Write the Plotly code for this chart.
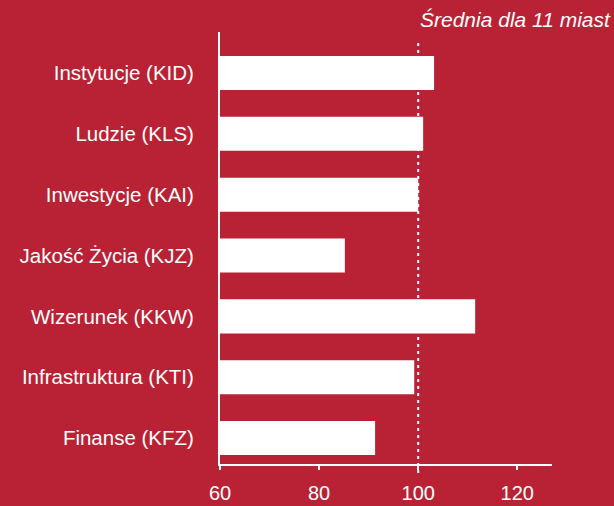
import plotly.graph_objects as go

categories = ["Finanse (KFZ)", "Infrastruktura (KTI)", "Wizerunek (KKW)",
              "Jakość Życia (KJZ)", "Inwestycje (KAI)", "Ludzie (KLS)", "Instytucje (KID)"]
values = [91.3, 99.2, 111.5, 85.2, 100.0, 101.0, 103.2]
average = 100
x_ticks = [60, 80, 100, 120]
avg_label = "Średnia dla 11 miast"

BG = "#B92234"
FONT = "Liberation Sans, Arial, Helvetica, sans-serif"

fig = go.Figure()
fig.add_trace(go.Bar(
    y=categories, x=values, orientation="h",
    marker=dict(color="white", line=dict(width=0)),
    width=0.56, hoverinfo="skip",
))

fig.add_shape(type="line", xref="x", yref="paper",
              x0=average, x1=average, y0=-0.021, y1=0.981,
              line=dict(color="white", width=2, dash="3px,4px"), layer="above")

fig.add_annotation(text=avg_label, xref="paper", yref="paper",
                   x=1.185, y=1.028, xanchor="right", yanchor="middle",
                   showarrow=False,
                   font=dict(family=FONT, size=21, color="white", style="italic"))

fig.update_layout(
    width=614, height=506,
    margin=dict(l=220, r=62, t=32, b=42, autoexpand=False),
    paper_bgcolor=BG, plot_bgcolor=BG,
    showlegend=False,
    font=dict(family=FONT, size=20, color="white"),
    xaxis=dict(range=[60, 127], tickvals=x_ticks, showgrid=False, zeroline=False,
               showline=True, linecolor="white", linewidth=2,
               ticks="outside", ticklen=4, tickwidth=2, tickcolor="white",
               ticklabelstandoff=6, automargin=False,
               tickfont=dict(family=FONT, size=20, color="white")),
    yaxis=dict(range=[-0.427, 6.674], showgrid=False, zeroline=False,
               showline=True, linecolor="white", linewidth=2,
               ticks="", ticklabelstandoff=20, automargin=False,
               tickfont=dict(family=FONT, size=20.5, color="white")),
)

fig.write_html("out.html", config={"displayModeBar": False},
               post_script="document.body.style.margin='0';document.body.style.padding='0';")
